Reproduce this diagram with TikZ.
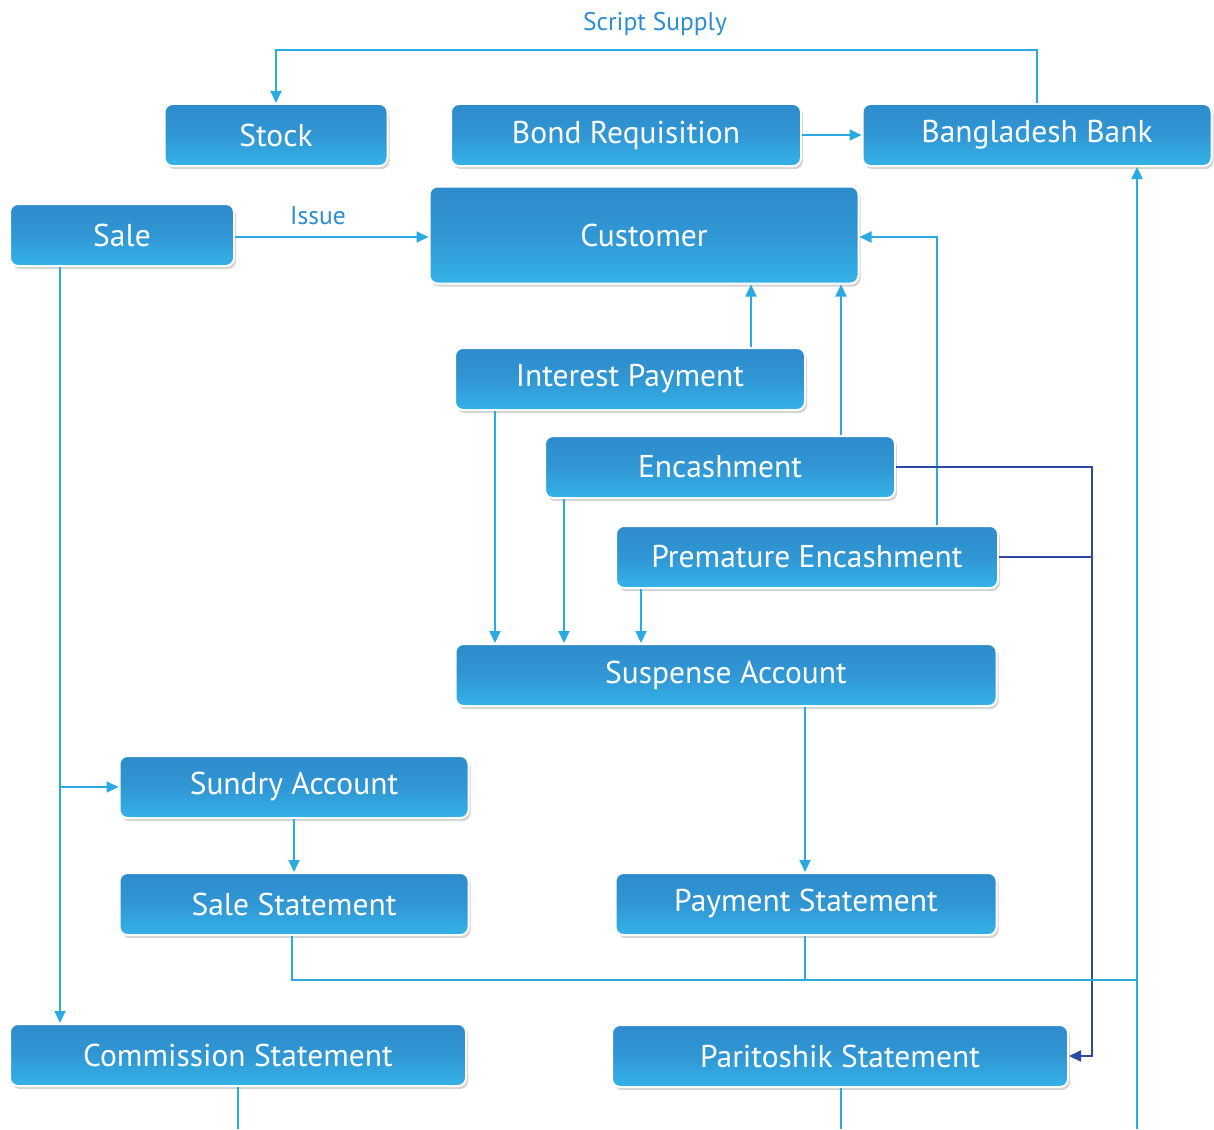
\documentclass[tikz,border=0pt]{standalone}
\usepackage{fontspec}
\setmainfont{PT Sans}
\usetikzlibrary{arrows.meta,shadows}
\definecolor{cTop}{HTML}{2E8BCB}
\definecolor{cBot}{HTML}{35B2E8}
\definecolor{cLine}{HTML}{29ABE2}
\definecolor{cDark}{HTML}{2E4A9E}
\definecolor{cLbl}{HTML}{2B8ED0}
\tikzset{flowbox/.style={
  shape=rectangle,
  rounded corners=8pt,
  draw=white,
  line width=2pt,
  top color=cTop,
  bottom color=cBot,
  middle color=cTop!70!cBot,
  minimum height=62pt,
  text=white,
  font=\fontsize{31.5}{36}\selectfont,
  drop shadow={opacity=0.35, shadow xshift=2pt, shadow yshift=-3pt},
  }
}
\tikzset{link/.style={
  draw=cLine,
  line width=2pt,
  -{Triangle[length=12pt,width=11pt]},
  }
}
\tikzset{linkplain/.style={
  draw=cLine,
  line width=2pt,
  }
}
\tikzset{paylink/.style={
  draw=cDark,
  line width=2pt,
  }
}
\tikzset{flowlbl/.style={
  text=cLbl,
  font=\fontsize{25.5}{30}\selectfont,
  }
}

\begin{document}
\begin{tikzpicture}[x=1pt,y=-1pt]
      \useasboundingbox (0,0) rectangle (1214,1129);
      % boxes
      \node [flowbox, minimum width=223pt] (stock) at (276,135) {Stock};
      \node [flowbox, minimum width=350pt] (bondreq) at (626,135) {Bond Requisition};
      \node [flowbox, minimum width=349pt] (bbank) at (1037,135) {Bangladesh Bank};
      \node [flowbox, minimum width=224pt] (sale) at (122,235) {Sale};
      \node [flowbox, minimum width=429pt, minimum height=97pt] (cust) at (644,235) {Customer};
      \node [flowbox, minimum width=350pt] (intpay) at (630,379) {Interest Payment};
      \node [flowbox, minimum width=350pt] (encash) at (720,467) {Encashment};
      \node [flowbox, minimum width=382pt] (premenc) at (807,557) {Premature Encashment};
      \node [flowbox, minimum width=541pt] (susp) at (726,675) {Suspense Account};
      \node [flowbox, minimum width=349pt] (sundry) at (294,787) {Sundry Account};
      \node [flowbox, minimum width=349pt] (salest) at (294,904) {Sale Statement};
      \node [flowbox, minimum width=381pt] (payst) at (806,904) {Payment Statement};
      \node [flowbox, minimum width=456pt] (commst) at (238,1055) {Commission Statement};
      \node [flowbox, minimum width=456pt] (parist) at (840,1056) {Paritoshik Statement};

      \coordinate (join) at (1137,980);
      \coordinate (bbfoot) at (1137,1129);
      \coordinate (commend) at (238,1129);
      \coordinate (pariend) at (841,1129);

      % labels
      \node [flowlbl] (supplylbl) at (655,24) {Script Supply};
      \node [flowlbl] (issuelbl) at (318,216) {Issue};

      % connectors
      \draw [link] (bbank.north) -- (bbank.north |- 0,50) -| (stock.north);
      \draw [link] (bondreq.east) -- (bbank.west);
      \draw [link] (sale.east |- 0,237) -- (cust.west |- 0,237);
      \draw [link] (intpay.north -| 751,0) -- (cust.south -| 751,0);
      \draw [link] (encash.north -| 841,0) -- (cust.south -| 841,0);
      \draw [link] (premenc.north -| 937,0) |- (cust.east |- 0,237);
      \draw [link] (intpay.south -| 495,0) -- (susp.north -| 495,0);
      \draw [link] (encash.south -| 564,0) -- (susp.north -| 564,0);
      \draw [link] (premenc.south -| 641,0) -- (susp.north -| 641,0);
      \draw [paylink, -{Triangle[length=12pt,width=11pt]}] (encash.east) -- (encash.east -| 1092,0) |- (parist.east);
      \draw [paylink] (premenc.east) -- (premenc.east -| 1092,0);
      \draw [link] (sale.south -| 60,0) -- (commst.north -| 60,0);
      \draw [link] (sale.south -| 60,0) |- (sundry.west);
      \draw [link] (sundry.south) -- (salest.north);
      \draw [link] (susp.south -| 805,0) -- (payst.north -| 805,0);
      \draw [linkplain] (salest.south -| 292,0) |- (join);
      \draw [linkplain] (payst.south -| 805,0) -- (join -| 805,0);
      \draw [link] (bbfoot) -- (bbank.south -| bbfoot);
      \draw [linkplain] (commst.south) -- (commend);
      \draw [linkplain] (parist.south -| pariend) -- (pariend);
\end{tikzpicture}
\end{document}
